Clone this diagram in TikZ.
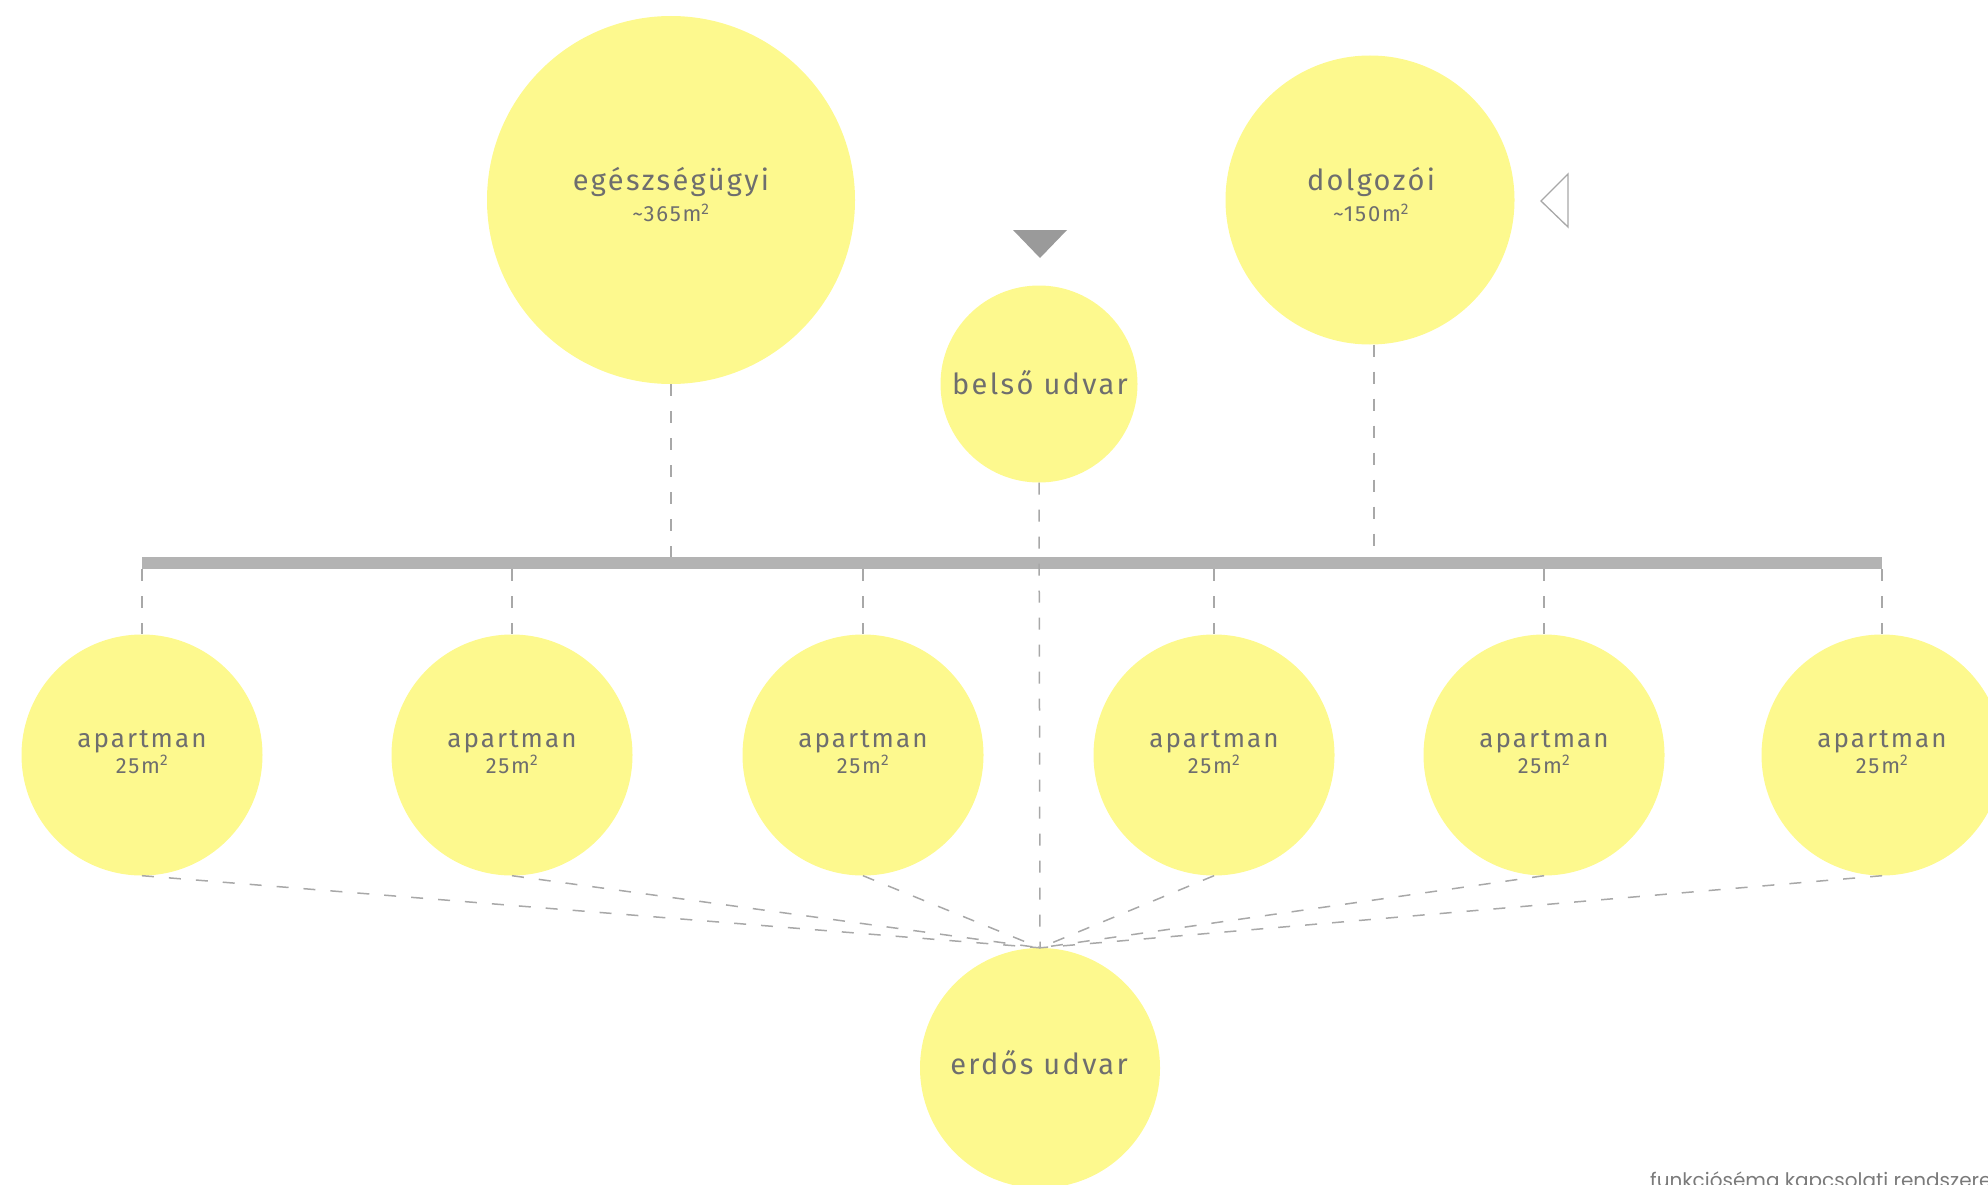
\documentclass[tikz,border=0pt]{standalone}
\usepackage{fontspec}
\setmainfont{Fira Sans}
\newfontfamily\dinf[LetterSpace=8]{Fira Sans}
\newfontfamily\footf{Poppins}
\definecolor{bubyellow}{HTML}{FDF98E}
\definecolor{txtgrey}{HTML}{6E6E6E}
\definecolor{lgrey}{HTML}{A8A8A8}
\definecolor{bargrey}{HTML}{B3B3B3}
\definecolor{trigrey}{HTML}{9A9A9A}
\definecolor{footgrey}{HTML}{7A7A7A}
\begin{document}
\begin{tikzpicture}[x=1pt,y=-1pt,
  bub/.style={circle, fill=bubyellow, draw=none, inner sep=0pt, minimum size=#1},
  lbl/.style={text=txtgrey, anchor=base, inner sep=0pt, font=\dinf\fontsize{#1}{#1}\selectfont},
  dline/.style={draw=lgrey, line width=1.5pt, dash pattern=on 12pt off 15pt},
]
\useasboundingbox (0,0) rectangle (1988,1185);

% bubbles
\node[bub=368pt] (eg) at (671,200) {};
\node[bub=289pt] (dol) at (1370,200) {};
\node[bub=197pt] (bel) at (1039,384) {};
\node[bub=240pt] (erd) at (1040,1068) {};
\foreach \i/\x in {1/142,2/512,3/863,4/1214,5/1544,6/1882}{
  \node[bub=241pt] (a\i) at (\x,755) {};
}

% bar
\node[fill=bargrey, minimum height=12pt, minimum width=1740pt, inner sep=0pt, anchor=west] (bar) at (142,563) {};

% connectors
\draw[dline] (eg.south) -- (eg.south |- bar.north);
\draw[dline] ([xshift=4pt]dol.south) -- ([xshift=4pt]dol.south |- bar.north);
\draw[dline] (bel.south) -- (erd.north);
\foreach \i in {1,...,6}{
  \draw[dline] (a\i.north |- bar.south) -- (a\i.north);
  \draw[dline] (a\i.south) -- (erd.north);
}

% markers
\fill[trigrey] (1013,230) -- (1067,230) -- (1040,258) -- cycle;
\draw[lgrey, line width=1.3pt, line join=miter] (1568,174) -- (1568,227) -- (1541,201) -- cycle;

% labels
\node[lbl=29] (egt) at (671,190) {egészségügyi};
\node[lbl=22] (egs) at (671,222) {\textasciitilde365m\textsuperscript{2}};
\node[lbl=29] (dolt) at (1371,190) {dolgozói};
\node[lbl=22] (dols) at (1371,222) {\textasciitilde150m\textsuperscript{2}};
\node[lbl=29] (belt) at (1040,394) {belső udvar};
\node[lbl=29] (erdt) at (1039,1074) {erdős udvar};
\foreach \i/\x in {1/142,2/512,3/863,4/1214,5/1544,6/1882}{
  \node[lbl=26] (at\i) at (\x,747) {apartman};
  \node[lbl=22] (as\i) at (\x,773) {25m\textsuperscript{2}};
}

\node[anchor=base west, inner sep=0pt, text=footgrey, font=\footf\fontsize{20}{20}\selectfont] (foot) at (1650,1187) {funkcióséma kapcsolati rendszere};
\end{tikzpicture}
\end{document}
